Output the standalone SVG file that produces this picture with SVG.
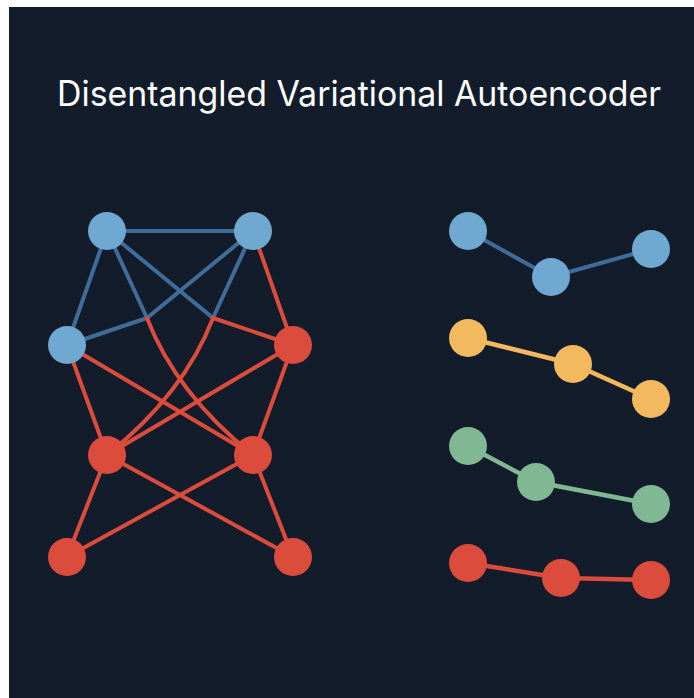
<svg xmlns="http://www.w3.org/2000/svg" width="694" height="698" viewBox="0 0 694 698">
<style>
.bl{stroke:#3f6c99;stroke-width:4;fill:none;stroke-linecap:round}
.rl{stroke:#dc4c3c;stroke-width:4;fill:none;stroke-linecap:round}
.yl{stroke:#f3b95f;stroke-width:4.5;fill:none}
.gl{stroke:#80b894;stroke-width:4.5;fill:none}
.rl2{stroke:#dc4c3c;stroke-width:4.5;fill:none}
.bn{fill:#6fa8d1}
.rn{fill:#dc4c3c}
.yn{fill:#f3b95f}
.gn{fill:#80b894}
.title{font-family:Inter,"Liberation Sans",sans-serif;font-size:35px;fill:#ffffff}
</style>
<rect x="0" y="0" width="694" height="698" fill="#ffffff"/>
<rect x="9" y="7" width="685" height="691" fill="#131c2a"/>
<text class="title" x="359" y="106" text-anchor="middle" textLength="604" lengthAdjust="spacingAndGlyphs">Disentangled Variational Autoencoder</text>
<g id="connectors">
<line class="bl" x1="107" y1="231" x2="253" y2="231"/>
<line class="bl" x1="107" y1="231" x2="67" y2="345"/>
<line class="bl" x1="107" y1="231" x2="147" y2="318"/>
<line class="bl" x1="107" y1="231" x2="213" y2="318"/>
<line class="bl" x1="253" y1="231" x2="147" y2="318"/>
<line class="bl" x1="253" y1="231" x2="213" y2="318"/>
<line class="bl" x1="67" y1="345" x2="147" y2="318"/>
<line class="rl" x1="253" y1="231" x2="293" y2="345"/>
<line class="rl" x1="213" y1="318" x2="293" y2="345"/>
<path class="rl" d="M147 318 Q176 393.5 253 455"/>
<path class="rl" d="M213 318 Q184 393.5 107 455"/>
<line class="rl" x1="67" y1="345" x2="107" y2="455"/>
<line class="rl" x1="67" y1="345" x2="253" y2="455"/>
<line class="rl" x1="293" y1="345" x2="107" y2="455"/>
<line class="rl" x1="293" y1="345" x2="253" y2="455"/>
<line class="rl" x1="107" y1="455" x2="67" y2="557"/>
<line class="rl" x1="107" y1="455" x2="293" y2="557"/>
<line class="rl" x1="253" y1="455" x2="67" y2="557"/>
<line class="rl" x1="253" y1="455" x2="293" y2="557"/>
<polyline class="bl" points="468,231 551,277 651,249"/>
<polyline class="yl" points="468,338 573,364 651,399"/>
<polyline class="gl" points="468,446 536,482 651,504"/>
<polyline class="rl2" points="468,563 561,578 651,580"/>
</g>
<g id="nA"><circle class="bn" cx="107" cy="231" r="19"/></g>
<g id="nB"><circle class="bn" cx="253" cy="231" r="19"/></g>
<g id="nC"><circle class="bn" cx="67" cy="345" r="19"/></g>
<g id="nD"><circle class="rn" cx="293" cy="345" r="19"/></g>
<g id="nE"><circle class="rn" cx="107" cy="455" r="19"/></g>
<g id="nF"><circle class="rn" cx="253" cy="455" r="19"/></g>
<g id="nG"><circle class="rn" cx="67" cy="557" r="19"/></g>
<g id="nH"><circle class="rn" cx="293" cy="557" r="19"/></g>
<g id="b1"><circle class="bn" cx="468" cy="231" r="19"/></g>
<g id="b2"><circle class="bn" cx="551" cy="277" r="19"/></g>
<g id="b3"><circle class="bn" cx="651" cy="249" r="19"/></g>
<g id="y1"><circle class="yn" cx="468" cy="338" r="19"/></g>
<g id="y2"><circle class="yn" cx="573" cy="364" r="19"/></g>
<g id="y3"><circle class="yn" cx="651" cy="399" r="19"/></g>
<g id="g1"><circle class="gn" cx="468" cy="446" r="19"/></g>
<g id="g2"><circle class="gn" cx="536" cy="482" r="19"/></g>
<g id="g3"><circle class="gn" cx="651" cy="504" r="19"/></g>
<g id="r1"><circle class="rn" cx="468" cy="563" r="19"/></g>
<g id="r2"><circle class="rn" cx="561" cy="578" r="19"/></g>
<g id="r3"><circle class="rn" cx="651" cy="580" r="19"/></g>
</svg>
